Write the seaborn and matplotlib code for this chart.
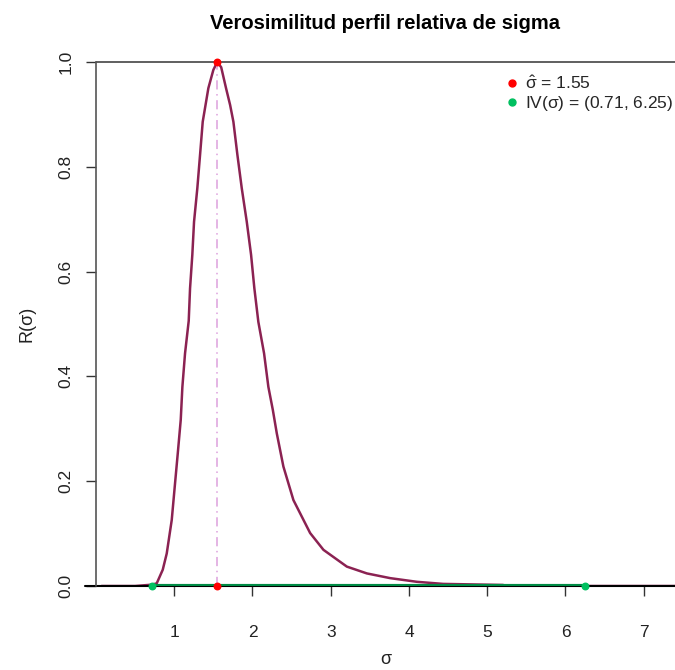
import numpy as np
import pandas as pd
import matplotlib
matplotlib.use("Agg")
import matplotlib.pyplot as plt
import seaborn as sns
from matplotlib.lines import Line2D

# Data
sigma = [0.07, 0.50, 0.712, 0.776, 0.853, 0.904, 0.968, 1.006, 1.045, 1.083, 1.104, 1.138,
         1.185, 1.202, 1.231, 1.253, 1.295, 1.330, 1.364, 1.436, 1.50, 1.55,
         1.60, 1.662, 1.714, 1.756, 1.807, 1.863, 1.927, 1.982, 2.024, 2.075, 2.148,
         2.203, 2.260, 2.311, 2.395, 2.523, 2.737, 2.907, 3.206, 3.462, 3.760, 4.101,
         4.437, 5.2, 5.25, 6.0, 7.0, 7.4]
R = [0.0, 0.0, 0.0025, 0.005, 0.031, 0.062, 0.126, 0.189, 0.253, 0.317, 0.380, 0.444,
     0.506, 0.568, 0.632, 0.695, 0.759, 0.823, 0.886, 0.950, 0.985, 1.0,
     0.990, 0.950, 0.918, 0.886, 0.823, 0.759, 0.695, 0.632, 0.568, 0.504, 0.444,
     0.380, 0.336, 0.291, 0.228, 0.164, 0.101, 0.069, 0.037, 0.024, 0.015, 0.008,
     0.004, 0.002, 0.0, 0.0, 0.0, 0.0]
sigma_hat = 1.55
iv_low, iv_high = 0.71, 6.25
x_ticks = [1, 2, 3, 4, 5, 6, 7]
y_ticks = [0.0, 0.2, 0.4, 0.6, 0.8, 1.0]

sns.set_theme(style="white")
plt.rcParams['font.family'] = ['Liberation Sans', 'DejaVu Sans']
plt.rcParams['mathtext.fontset'] = 'custom'
plt.rcParams['mathtext.rm'] = 'Liberation Sans'
plt.rcParams['mathtext.it'] = 'Liberation Sans'

maroon = "#8B2252"
green_line = "#008B45"
green_pt = "#00C060"
red = "#FF0000"

fig = plt.figure(figsize=(6.75, 6.7), dpi=100)
ax = fig.add_axes([96/675, 1 - 586/670, 1 - 96/675, (586 - 62)/670])

df = pd.DataFrame({"sigma": sigma, "R": R})
sns.lineplot(data=df, x="sigma", y="R", ax=ax, color=maroon, lw=1.8, sort=False)

# vertical line at sigma hat
ax.plot([sigma_hat, sigma_hat], [0, 1], color="#DDA0DD", lw=1.1, ls=(0, (6, 3, 1, 3)))
# interval line
ax.plot([iv_low, iv_high], [0, 0], color=green_line, lw=3, solid_capstyle='butt', zorder=3)
ax.scatter([iv_low, iv_high], [0, 0], color=green_pt, s=22, zorder=4, clip_on=False)
ax.scatter([sigma_hat, sigma_hat], [0, 1], color=red, s=22, zorder=4, clip_on=False)

ax.set_xlim(0, 7.4)
ax.set_ylim(0, 1)
for s in ["top", "right", "bottom", "left"]:
    ax.spines[s].set_visible(False)
ax.axhline(1, color="#444444", lw=1.2, clip_on=False)
ax.axhline(0, xmin=-0.019, xmax=1, color="black", lw=1.5, clip_on=False, zorder=2)
ax.plot([0, 0], [0, 1], color="#555555", lw=1.2, clip_on=False, transform=ax.transData)

ax.set_xticks(x_ticks)
ax.set_xticklabels([str(t) for t in x_ticks])
ax.set_yticks(y_ticks)
ax.set_yticklabels([f"{t:.1f}" for t in y_ticks])
ax.tick_params(axis='x', direction='out', length=7, width=1, color="#333333", pad=21,
               labelsize=12.5, bottom=True, labelcolor="#222222")
ax.tick_params(axis='y', direction='out', length=7, width=1, color="#333333", pad=9,
               labelsize=12.5, left=True, labelrotation=90, labelcolor="#222222")
for lab in ax.get_yticklabels():
    lab.set_va('center')

ax.set_xlabel("σ", fontsize=13, labelpad=8, color="#222222")
ax.set_ylabel("R(σ)", fontsize=13, labelpad=17, color="#222222")
ax.set_title("Verosimilitud perfil relativa de sigma", fontsize=14.5, fontweight='bold',
             pad=24, color="black")

handles = [Line2D([], [], ls='none', marker='o', color=red, markersize=5),
           Line2D([], [], ls='none', marker='o', color=green_pt, markersize=5)]
labels = [r"$\hat{\sigma}$ = 1.55", r"IV($\sigma$) = (0.71, 6.25)"]
fig.legend(handles, labels, loc='upper left', bbox_to_anchor=(502/675, 1 - 74/670),
           frameon=False, fontsize=12.5, handletextpad=0.1, labelspacing=0.15,
           borderaxespad=0, handlelength=1.2, borderpad=0)

fig.savefig("out.png", dpi=100)
